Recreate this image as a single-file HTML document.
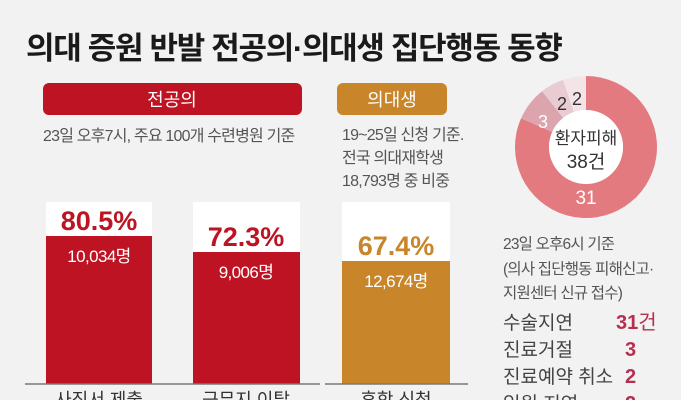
<!DOCTYPE html>
<html><head><meta charset="utf-8"><style>
html,body{margin:0;padding:0;background:#f2f2f2;}
svg{display:block;font-family:"Liberation Sans","Noto Sans CJK KR",sans-serif;}
</style></head><body>
<svg width="681" height="400" viewBox="0 0 681 400" xmlns="http://www.w3.org/2000/svg">
<rect width="681" height="400" fill="#f2f2f2"/>
<text x="26" y="59" font-size="31" font-weight="bold" fill="#1a1a1a" letter-spacing="-1.3">의대 증원 반발 전공의·의대생 집단행동 동향</text>
<rect x="43" y="83" width="259" height="32" rx="6" fill="#bd1322"/>
<text x="172" y="106" font-size="18" fill="#fff" text-anchor="middle">전공의</text>
<rect x="337" y="83" width="110" height="32" rx="6" fill="#c8852a"/>
<text x="392" y="106" font-size="18" fill="#fff" text-anchor="middle">의대생</text>
<g font-size="16" fill="#555" letter-spacing="-0.8">
<text x="43" y="141">23일 오후7시, 주요 100개 수련병원 기준</text>
<text x="342" y="140">19~25일 신청 기준.</text>
<text x="342" y="163">전국 의대재학생</text>
<text x="342" y="186">18,793명 중 비중</text>
</g>
<rect x="46" y="202" width="106" height="182" fill="#fff"/>
<rect x="46" y="236" width="106" height="148" fill="#bd1322"/>
<rect x="193" y="202" width="107" height="182" fill="#fff"/>
<rect x="193" y="252" width="107" height="132" fill="#bd1322"/>
<rect x="342" y="202" width="108" height="182" fill="#fff"/>
<rect x="342" y="261" width="108" height="123" fill="#c8852a"/>
<line x1="25" y1="384" x2="320" y2="384" stroke="#777" stroke-width="1.5"/>
<line x1="325" y1="384" x2="468" y2="384" stroke="#777" stroke-width="1.5"/>
<g font-size="27" font-weight="bold" text-anchor="middle">
<text x="99" y="230" fill="#bd1322">80.5%</text>
<text x="246" y="246" fill="#bd1322">72.3%</text>
<text x="396" y="255" fill="#c8852a">67.4%</text>
</g>
<g font-size="17" fill="#fff" text-anchor="middle" letter-spacing="-0.6">
<text x="99" y="262">10,034명</text>
<text x="246" y="278">9,006명</text>
<text x="396" y="287">12,674명</text>
</g>
<g font-size="18" fill="#333" text-anchor="middle">
<text x="99" y="406">사직서 제출</text>
<text x="246" y="406">근무지 이탈</text>
<text x="396" y="406">휴학 신청</text>
</g>
<g transform="translate(586,147)">
<path d="M0,-71 A71,71 0 1 1 -64.9,-28.8 L-33.8,-15.0 A37,37 0 1 0 0,-37 Z" fill="#e27a80"/>
<path d="M-64.9,-28.8 A71,71 0 0 1 -43.9,-55.8 L-22.9,-29.1 A37,37 0 0 0 -33.8,-15.0 Z" fill="#dca5ae"/>
<path d="M-43.9,-55.8 A71,71 0 0 1 -23.1,-67.1 L-12.0,-35.0 A37,37 0 0 0 -22.9,-29.1 Z" fill="#e9ccd2"/>
<path d="M-23.1,-67.1 A71,71 0 0 1 0,-71 L0,-37 A37,37 0 0 0 -12.0,-35.0 Z" fill="#f4e4e7"/>
<circle r="37" fill="#fff"/>
<text x="-43" y="-19" font-size="18" fill="#fff" text-anchor="middle">3</text>
<text x="-24" y="-37" font-size="18" fill="#333" text-anchor="middle">2</text>
<text x="-9" y="-42" font-size="18" fill="#333" text-anchor="middle">2</text>
<text x="0" y="57" font-size="19" fill="#fff" text-anchor="middle">31</text>
<text x="0" y="-3" font-size="17" fill="#333" text-anchor="middle">환자피해</text>
<text x="0" y="21" font-size="19" fill="#333" text-anchor="middle">38건</text>
</g>
<g font-size="15.5" fill="#555" letter-spacing="-0.8">
<text x="503" y="249">23일 오후6시 기준</text>
<text x="503" y="274">(의사 집단행동 피해신고·</text>
<text x="503" y="298">지원센터 신규 접수)</text>
</g>
<g font-size="19" fill="#444">
<text x="503" y="329">수술지연</text>
<text x="503" y="356">진료거절</text>
<text x="503" y="383">진료예약 취소</text>
<text x="503" y="410">입원 지연</text>
</g>
<g font-size="20" font-weight="bold" fill="#b5304f">
<text x="616" y="329">31<tspan font-weight="normal">건</tspan></text>
<text x="625" y="356">3</text>
<text x="625" y="383">2</text>
<text x="625" y="410">2</text>
</g>
</svg>
</body></html>
